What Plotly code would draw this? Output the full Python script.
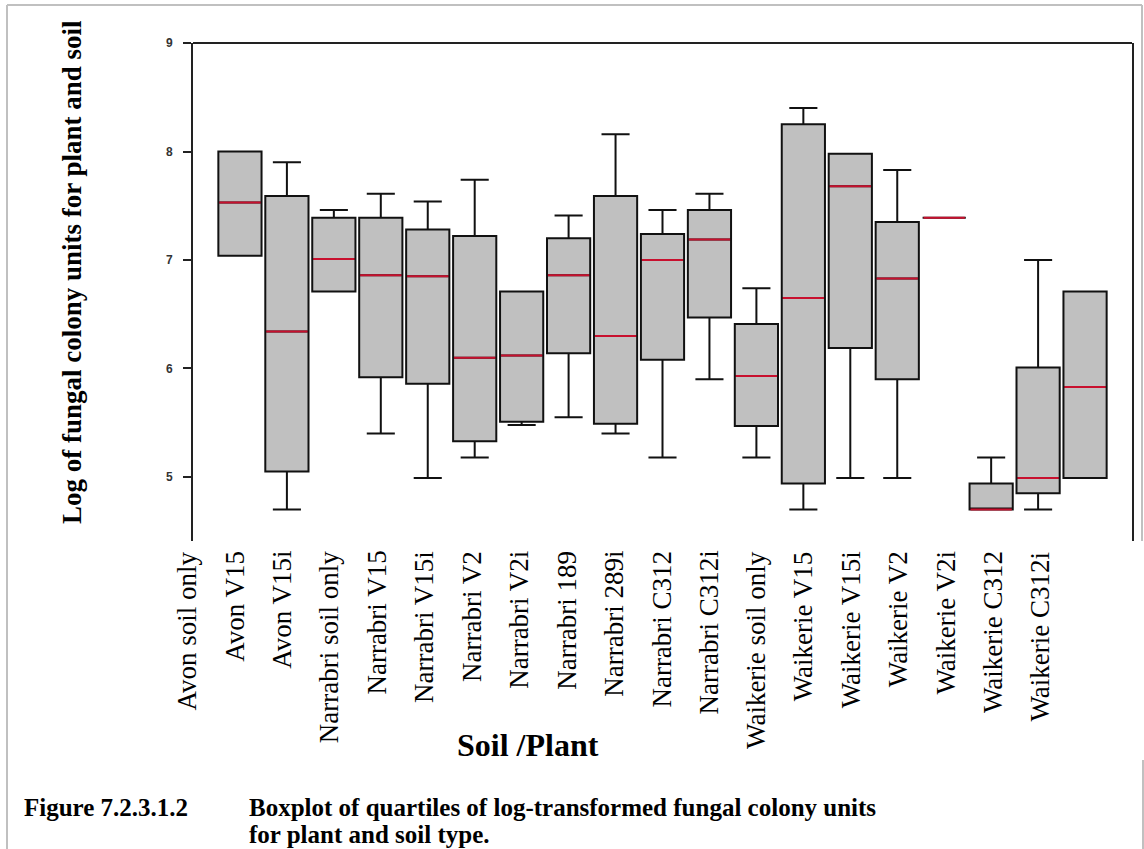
import plotly.graph_objects as go

# ---- data ----
categories = [
    "Avon soil only", "Avon V15", "Avon V15i", "Narrabri soil only", "Narrabri V15",
    "Narrabri V15i", "Narrabri V2", "Narrabri V2i", "Narrabri 189", "Narrabri 289i",
    "Narrabri C312", "Narrabri C312i", "Waikerie soil only", "Waikerie V15",
    "Waikerie V15i", "Waikerie V2", "Waikerie V2i", "Waikerie C312", "Waikerie C312i",
]
q1 = [7.04, 5.05, 6.71, 5.92, 5.86, 5.33, 5.51, 6.14, 5.49, 6.08, 6.47, 5.47, 4.94, 6.19, 5.90, 7.39, 4.70, 4.85, 4.99]
median = [7.53, 6.34, 7.01, 6.86, 6.85, 6.10, 6.12, 6.86, 6.30, 7.00, 7.19, 5.93, 6.65, 7.68, 6.83, 7.39, 4.70, 4.99, 5.83]
q3 = [8.00, 7.59, 7.39, 7.39, 7.28, 7.22, 6.71, 7.20, 7.59, 7.24, 7.46, 6.41, 8.25, 7.98, 7.35, 7.39, 4.94, 6.01, 6.71]
lower = [7.04, 4.70, 6.71, 5.40, 4.99, 5.18, 5.48, 5.55, 5.40, 5.18, 5.90, 5.18, 4.70, 4.99, 4.99, 7.39, 4.70, 4.70, 4.99]
upper = [8.00, 7.90, 7.46, 7.61, 7.54, 7.74, 6.71, 7.41, 8.16, 7.46, 7.61, 6.74, 8.40, 7.98, 7.83, 7.39, 5.18, 7.00, 6.71]
y_ticks = [5, 6, 7, 8, 9]

# ---- layout geometry (pixels) ----
W, H = 1144, 849
L, R, T, B = 193, 1132, 43, 541
X_RANGE = [0, 20]
BOX_W = 0.92


def xp(px):
    return (px - L) / (R - L)


def yp(py):
    return (B - py) / (B - T)


def x_data_to_paper(v):
    return (v - X_RANGE[0]) / (X_RANGE[1] - X_RANGE[0])


positions = [i + 1 for i in range(len(categories))]

fig = go.Figure()
fig.add_trace(go.Box(
    x=positions, q1=q1, median=median, q3=q3,
    lowerfence=lower, upperfence=upper,
    width=BOX_W, whiskerwidth=0.65,
    fillcolor="#c0c0c0", line=dict(color="#111111", width=2),
    boxpoints=False, showlegend=False, hoverinfo="skip",
))

# red median lines on top
mx, my = [], []
for p, m in zip(positions, median):
    mx += [p - BOX_W / 2 + 0.02, p + BOX_W / 2 - 0.02, None]
    my += [m, m, None]
fig.add_trace(go.Scatter(x=mx, y=my, mode="lines",
                         line=dict(color="#c8102e", width=2),
                         showlegend=False, hoverinfo="skip"))

annotations = []
for i, c in enumerate(categories):
    # labels in the source sit about one slot to the left of their boxes
    annotations.append(dict(
        x=x_data_to_paper(i * 1.01 - 0.13), xref="paper", y=yp(549), yref="paper",
        text=c, showarrow=False, textangle=-90,
        xanchor="center", yanchor="top",
        font=dict(family="Liberation Serif", size=27, color="black"),
    ))

annotations += [
    dict(x=xp(72), y=yp(272), xref="paper", yref="paper",
         text="<b>Log of fungal colony units for plant and soil</b>",
         textangle=-90, showarrow=False, xanchor="center", yanchor="middle",
         font=dict(family="Liberation Serif", size=27, color="black")),
    dict(x=xp(528), y=yp(745), xref="paper", yref="paper",
         text="<b>Soil /Plant</b>", showarrow=False,
         xanchor="center", yanchor="middle",
         font=dict(family="Liberation Serif", size=32, color="black")),
    dict(x=xp(22), y=yp(807), xref="paper", yref="paper",
         text="<b>Figure 7.2.3.1.2</b>", showarrow=False,
         xanchor="left", yanchor="middle",
         font=dict(family="Liberation Serif", size=25, color="black")),
    dict(x=xp(247), y=yp(807), xref="paper", yref="paper",
         text="<b>Boxplot of quartiles of log-transformed fungal colony units</b>",
         showarrow=False, xanchor="left", yanchor="middle",
         font=dict(family="Liberation Serif", size=25, color="black")),
    dict(x=xp(247), y=yp(834), xref="paper", yref="paper",
         text="<b>for plant and soil type.</b>",
         showarrow=False, xanchor="left", yanchor="middle",
         font=dict(family="Liberation Serif", size=25, color="black")),
]

gray = dict(color="#c0c0c0", width=2)
shapes = [
    # top axis line
    dict(type="line", xref="paper", yref="paper", x0=0, x1=1, y0=1, y1=1,
         line=dict(color="#222222", width=2)),
    # page frame
    dict(type="line", xref="paper", yref="paper", x0=xp(7), x1=xp(7), y0=yp(5), y1=yp(860), line=gray),
    dict(type="line", xref="paper", yref="paper", x0=xp(7), x1=xp(1142), y0=yp(5), y1=yp(5), line=gray),
    dict(type="line", xref="paper", yref="paper", x0=xp(1142), x1=xp(1142), y0=yp(5), y1=yp(541), line=gray),
    dict(type="line", xref="paper", yref="paper", x0=xp(1143), x1=xp(1143), y0=yp(760), y1=yp(860), line=gray),
]

fig.update_layout(
    width=W, height=H,
    margin=dict(l=L, r=W - R, t=T, b=H - B, autoexpand=False),
    paper_bgcolor="white", plot_bgcolor="white",
    showlegend=False,
    xaxis=dict(range=X_RANGE, showline=False, showticklabels=False, ticks="",
               showgrid=False, zeroline=False),
    yaxis=dict(range=[4.41, 9], tickvals=y_ticks, ticks="outside", ticklen=8,
               tickwidth=2, tickcolor="#222222", showline=True, linewidth=2,
               linecolor="#222222", mirror=True, showgrid=False, zeroline=False,
               ticklabelstandoff=8,
               tickfont=dict(family="Liberation Sans", size=12, color="#333333",
                             weight="bold")),
    annotations=annotations,
    shapes=shapes,
)

fig.write_html("out.html",
               config={"displayModeBar": False},
               post_script="document.body.style.margin='0px';document.body.style.overflow='hidden';")
